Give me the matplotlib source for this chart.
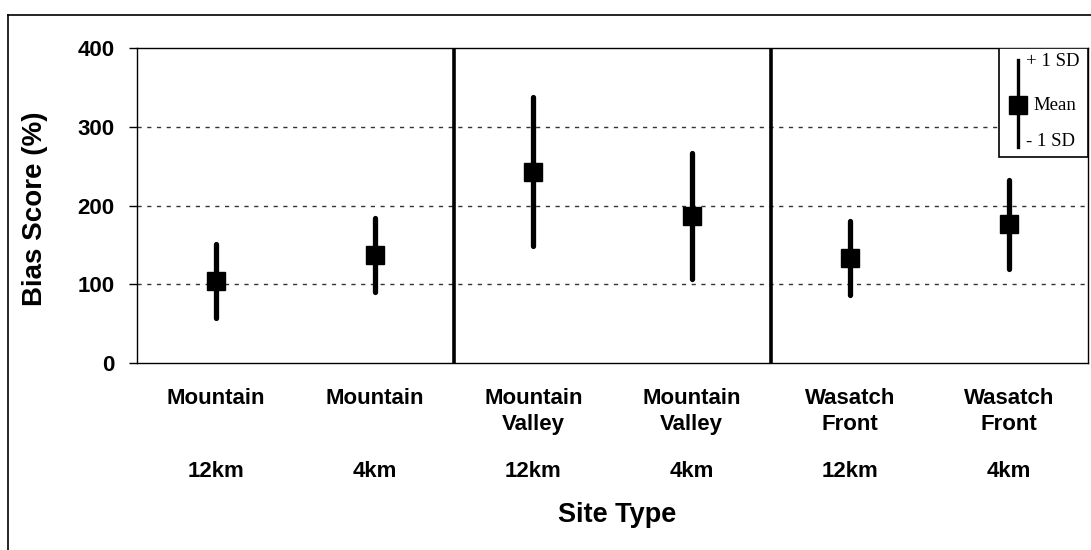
import matplotlib
matplotlib.use("Agg")
import matplotlib.pyplot as plt
from matplotlib.lines import Line2D
from matplotlib.patches import Rectangle

plt.rcParams['font.family'] = ['Liberation Sans', 'DejaVu Sans']

# Site types, model resolution and bias score statistics
site_types = ["Mountain", "Mountain", "Mountain\nValley", "Mountain\nValley",
              "Wasatch\nFront", "Wasatch\nFront"]
resolutions = ["12km", "4km", "12km", "4km", "12km", "4km"]
mean_bias = [104, 137, 243, 187, 133, 176]
sd_bias = [47, 47, 95, 80, 47, 57]
y_ticks = [0, 100, 200, 300, 400]

fig = plt.figure(figsize=(10.91, 5.5), dpi=100)
W, H = 1091, 550
ax = fig.add_axes([137 / W, 1 - 363 / H, (1088 - 137) / W, (363 - 48) / H])

x = list(range(len(site_types)))

# dotted horizontal grid
for yv in y_ticks[1:-1]:
    ax.axhline(yv, color="#333333", lw=1.0, ls=(0, (3, 4)), zorder=1)

# dividers between site groups
for xv in [1.5, 3.5]:
    ax.axvline(xv, color="black", lw=2.6, zorder=2)

eb = ax.errorbar(x, mean_bias, yerr=sd_bias, fmt="s", color="black",
                 ecolor="black", elinewidth=3.8, markersize=12.5, capsize=0,
                 zorder=3)
eb.lines[2][0].set_capstyle("round")

ax.set_xlim(-0.5, 5.5)
ax.set_ylim(0, 400)
ax.set_yticks(y_ticks)
ax.set_xticks([])
ax.tick_params(axis="y", direction="out", length=6, width=1, pad=10,
               labelsize=16)
for lab in ax.get_yticklabels():
    lab.set_fontweight("bold")
for sp in ax.spines.values():
    sp.set_linewidth(1.0)

ax.set_ylabel("Bias Score (%)", fontsize=20, fontweight="bold")
ax.yaxis.set_label_coords(-0.094, 0.49)

# category labels under the axis
for xi, name, res in zip(x, site_types, resolutions):
    ax.text(xi, -0.078, name, transform=ax.get_xaxis_transform(),
            ha="center", va="top", fontsize=16, fontweight="bold",
            linespacing=1.35)
    ax.text(xi, -0.345, res, transform=ax.get_xaxis_transform(),
            ha="center", va="center", fontsize=16, fontweight="bold")

fig.text(617 / W, 1 - 515 / H, "Site Type", ha="center", va="center",
         fontsize=19.5, fontweight="bold")

# key explaining the symbol
ax.add_patch(Rectangle((0.906, 0.654), 0.094, 0.346, transform=ax.transAxes,
                       facecolor="white", edgecolor="black", lw=1.2,
                       zorder=4))
ax.add_line(Line2D([0.926, 0.926], [0.686, 0.962], transform=ax.transAxes,
                   color="black", lw=2.4, zorder=5))
ax.add_line(Line2D([0.926], [0.819], transform=ax.transAxes, marker="s",
                   markersize=13, color="black", zorder=6))
key_font = dict(family=["Liberation Serif", "DejaVu Serif"], fontsize=13.5,
                transform=ax.transAxes, ha="left", va="center", zorder=6)
ax.text(0.935, 0.956, "+ 1 SD", **key_font)
ax.text(0.943, 0.819, "Mean", **key_font)
ax.text(0.935, 0.702, "- 1 SD", **key_font)

# outer chart frame
fig.add_artist(Line2D([8 / W, 8 / W], [0, 1 - 15 / H], color="black", lw=1.2))
fig.add_artist(Line2D([8 / W, 1], [1 - 15 / H, 1 - 15 / H], color="black",
                      lw=1.2))

fig.savefig("out.png", dpi=100)
